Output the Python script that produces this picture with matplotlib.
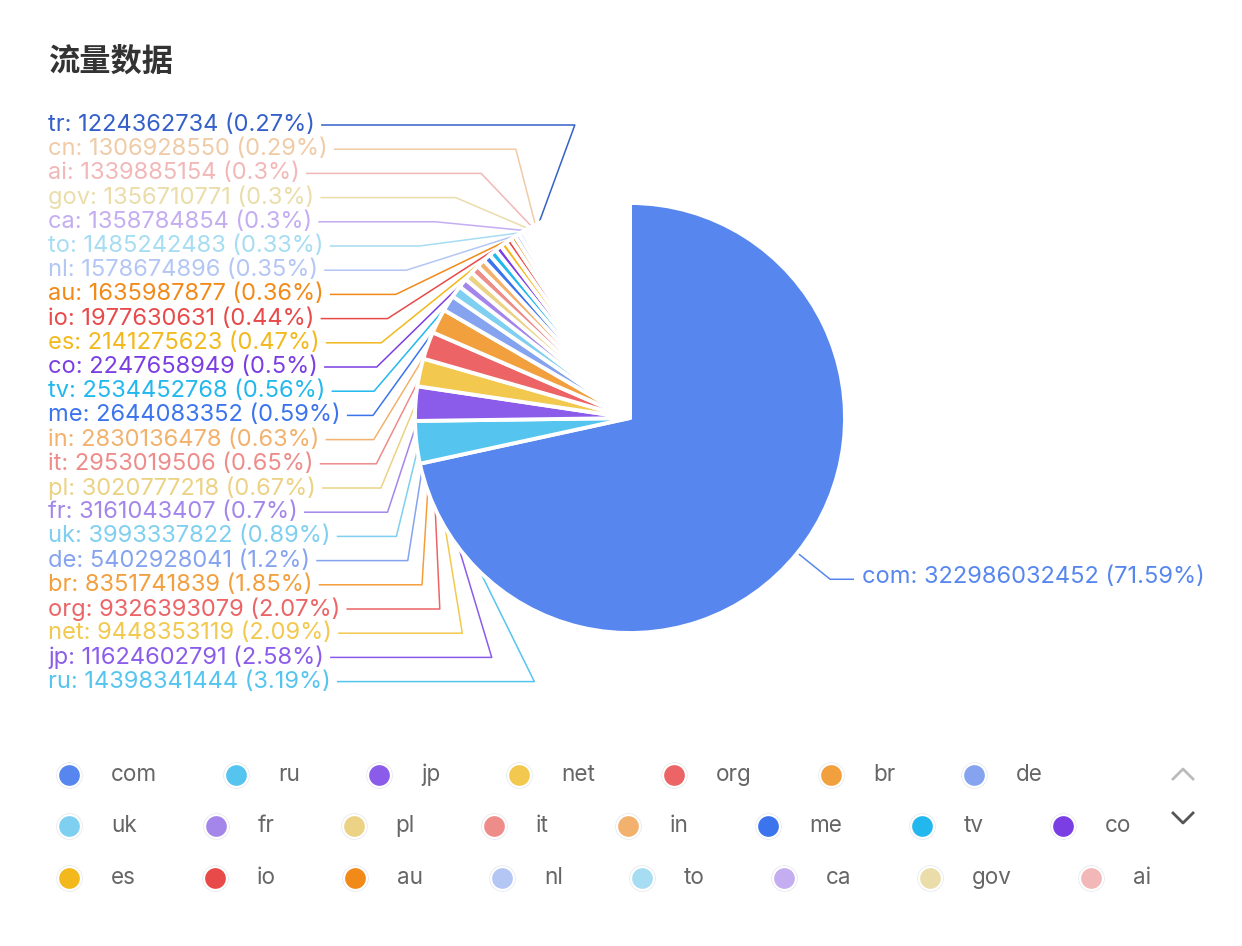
import numpy as np
import matplotlib
matplotlib.use("Agg")
import matplotlib.pyplot as plt

plt.rcParams['font.family'] = ['Inter', 'DejaVu Sans']

# data (domain names, traffic values)
names = ['com', 'ru', 'jp', 'net', 'org', 'br', 'de', 'uk', 'fr', 'pl', 'it', 'in',
         'me', 'tv', 'co', 'es', 'io', 'au', 'nl', 'to', 'ca', 'gov', 'ai', 'cn', 'tr']
values = [322986032452, 14398341444, 11624602791, 9448353119, 9326393079, 8351741839,
          5402928041, 3993337822, 3161043407, 3020777218, 2953019506, 2830136478,
          2644083352, 2534452768, 2247658949, 2141275623, 1977630631, 1635987877,
          1578674896, 1485242483, 1358784854, 1356710771, 1339885154, 1306928550,
          1224362734]
colors = ['#5787EE', '#55C5F0', '#8B5CEA', '#F2C94E', '#EC6466', '#F29F3E', '#85A3EE',
          '#7FCFF0', '#A486EA', '#EBD284', '#EE8C8A', '#F2B26E', '#3B74EC', '#22B8EE',
          '#7B3EE2', '#F2B81C', '#E84A4A', '#F28A1A', '#B3C6F4', '#A6DDF2', '#C4ADF0',
          '#EADDAA', '#F2B8B8', '#F0CBA6', '#3560C8']
com_share = 71.59   # shown share of com, the rest are tiny unlabelled domains

total = values[0] / (com_share / 100)
rest = total - sum(values)

W, H = 1242, 946
fig = plt.figure(figsize=(W / 100, H / 100), dpi=100)
ax = fig.add_axes([0, 0, 1, 1])

cx, cy, r = 630, 418, 215
rA = 257

wedges, _ = ax.pie(values + [rest], colors=colors + ['white'], startangle=-90,
                   counterclock=True, radius=r, center=(cx, cy), frame=False,
                   wedgeprops=dict(edgecolor='white', linewidth=2.8, zorder=3))
ax.set_xlim(0, W)
ax.set_ylim(H, 0)
ax.set_aspect('auto')
ax.axis('off')

rend = fig.canvas.get_renderer()

def fmt_pct(v):
    p = v / total * 100
    return f"{p:.2f}".rstrip('0').rstrip('.')

def txt_ext(t):
    bb = t.get_window_extent(rend)
    return bb.x0, bb.x1

# mid angles
fr = np.array(values) / total
cum = np.concatenate([[0], np.cumsum(fr)[:-1]])
mid = np.deg2rad(-90 + 360 * (cum + fr / 2))

lab_fs = 17
# com label on the right
t = ax.text(1205, 577, f"{names[0]}: {values[0]} ({fmt_pct(values[0])}%)", color=colors[0],
            fontsize=lab_fs, ha='right', va='center')
x0, x1 = txt_ext(t)
sx, sy = cx + r * np.cos(mid[0]), cy + r * np.sin(mid[0])
kx, ky = cx + rA * np.cos(mid[0]), cy + rA * np.sin(mid[0])
ax.plot([sx, kx, x0 - 9], [sy, ky, ky], color=colors[0], lw=1.1, zorder=2)

# left labels, stacked from the top
left = list(range(len(names) - 1, 0, -1))
lab_top, lab_step = 125, 24.2
ys = [lab_top + k * lab_step for k in range(len(left))]
rb_top, rb_bot = 300, 284
for k, i in enumerate(left):
    ly = ys[k]
    t = ax.text(48, ly, f"{names[i]}: {values[i]} ({fmt_pct(values[i])}%)", color=colors[i],
                fontsize=lab_fs, ha='left', va='center')
    x0, x1 = txt_ext(t)
    dy = ly - cy
    rb = rb_top if dy < 0 else rb_bot
    kx = cx - rA * np.sqrt(max(0.0, 1 - (dy / rb) ** 2))
    sx, sy = cx + r * np.cos(mid[i]), cy + r * np.sin(mid[i])
    ax.plot([sx, kx, x1 + 7], [sy, ly, ly], color=colors[i], lw=1.1, zorder=2)

# title
ax.text(48, 62, "流量数据", fontsize=22.5, fontweight='bold', color='#333333',
        family=['Noto Sans CJK SC', 'DejaVu Sans'], ha='left', va='center')

# legend, first page only
leg_fs = 16.2
rows_y = [775, 826, 878]
lx, row = 69, 0
for i in range(23):
    t = ax.text(0, 0, names[i], fontsize=leg_fs)
    tw = txt_ext(t)[1] - txt_ext(t)[0]
    t.remove()
    if lx + 42 + tw > 1165:
        row += 1
        lx = 69
    if row >= len(rows_y):
        break
    y = rows_y[row]
    ax.plot(lx, y, 'o', ms=19, mfc='#E2E4EA', mec='none', zorder=4)
    ax.plot(lx, y, 'o', ms=16.5, mfc=colors[i], mec='white', mew=1.6, zorder=5)
    ax.text(lx + 42, y, names[i], fontsize=leg_fs, color='#666666', ha='left', va='center')
    lx = lx + 42 + tw + 79

# page arrows
ax.plot([1173, 1183, 1193], [779, 769, 779], color='#BBBBBB', lw=2, zorder=4)
ax.plot([1173, 1183, 1193], [813, 823, 813], color='#555555', lw=2, zorder=4)

fig.savefig('out.png', dpi=100, facecolor='white')
